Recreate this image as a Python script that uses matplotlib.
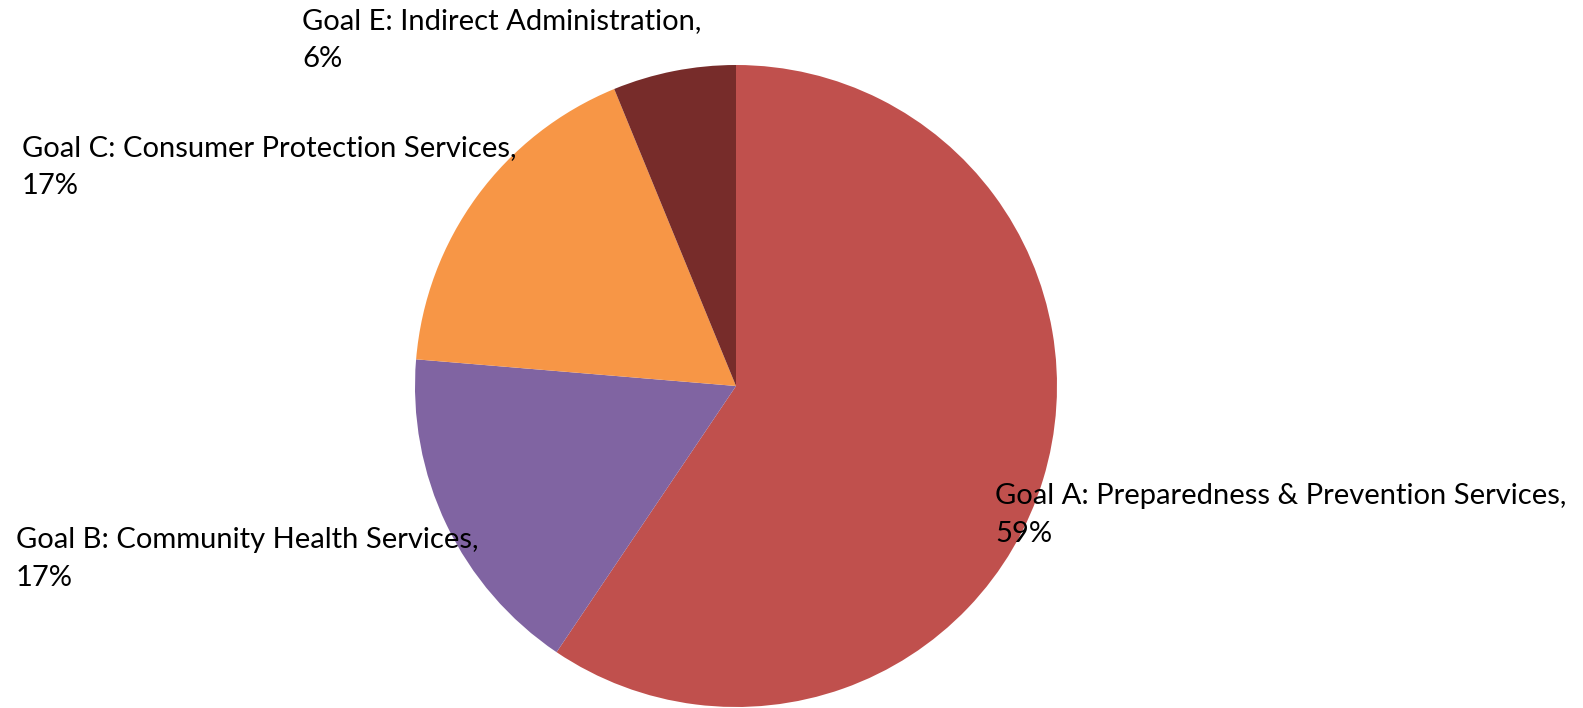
import matplotlib.pyplot as plt

goals = ['Goal A: Preparedness & Prevention Services',
         'Goal B: Community Health Services',
         'Goal C: Consumer Protection Services',
         'Goal E: Indirect Administration']
shares = [59.5, 16.9, 17.5, 6.2]
pct_labels = ['59%', '17%', '17%', '6%']
colors = ['#C0504D', '#8064A2', '#F79646', '#772C2A']

W, H = 1583, 708
fig = plt.figure(figsize=(W / 100, H / 100), dpi=100)

cx, cy, r = 736, 386, 321
ax = fig.add_axes([(cx - r) / W, (H - cy - r) / H, 2 * r / W, 2 * r / H])
ax.pie(shares, colors=colors, startangle=90, counterclock=False,
       radius=1, wedgeprops=dict(linewidth=0))
ax.set_xlim(-1, 1)
ax.set_ylim(-1, 1)
ax.set_aspect('equal')
ax.axis('off')

# label anchor (left edge, vertical middle of the two lines) in pixels
label_pos = [(995, 515), (16, 559), (22, 167), (302, 40)]
for name, pct, (px, py) in zip(goals, pct_labels, label_pos):
    fig.text(px / W, 1 - py / H, name + ',\n' + pct, ha='left', va='center',
             fontsize=21, family='Lato', color='black', linespacing=1.58)

plt.savefig('out.png', dpi=100)
